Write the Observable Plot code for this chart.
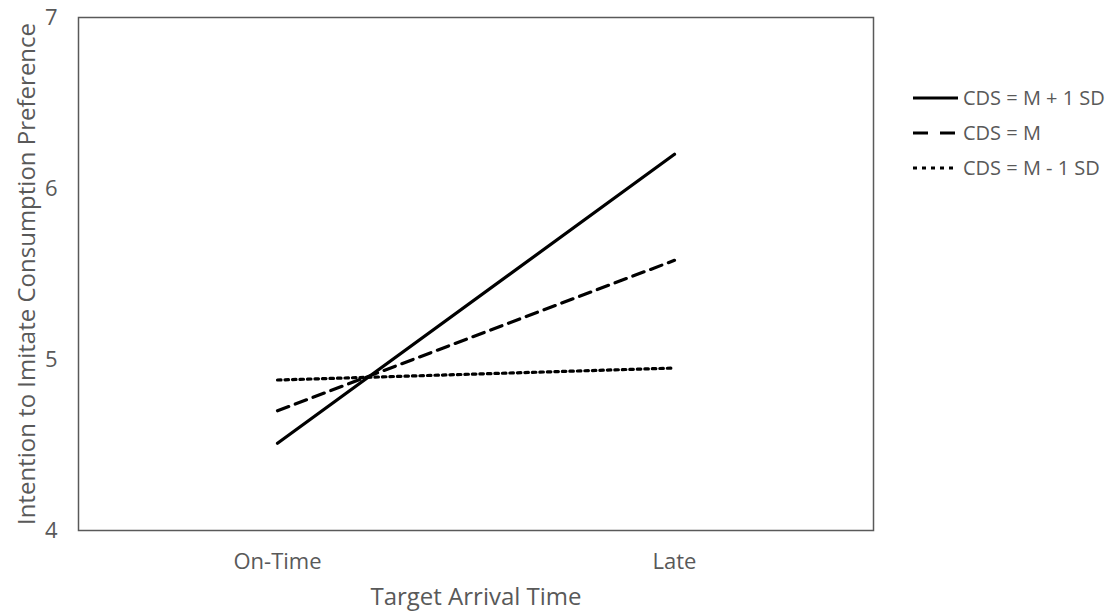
<!DOCTYPE html>
<html><head><meta charset="utf-8">
<script src="https://cdn.jsdelivr.net/npm/d3@7"></script>
<script src="https://cdn.jsdelivr.net/npm/@observablehq/plot@0.6"></script>
<style>
body{margin:0;background:#fff;font-family:"Open Sans",sans-serif;}
#wrap{position:relative;width:1119px;height:615px;}
#legend{position:absolute;left:912px;top:80px;color:#595959;font-size:20px;}
#legend div{display:flex;align-items:center;height:35px;}
#legend svg{margin-right:3px;}
</style></head><body>
<div id="wrap"><div id="chart"></div><div id="legend"></div></div>
<script>
const categories = ["On-Time", "Late"];
const seriesNames = ["CDS = M + 1 SD", "CDS = M", "CDS = M - 1 SD"];
const highSD = [4.51, 6.20];
const mean = [4.70, 5.58];
const lowSD = [4.88, 4.95];
const yTicks = [4, 5, 6, 7];

const dashes = {"CDS = M + 1 SD": null, "CDS = M": "12,7", "CDS = M - 1 SD": "3.5,4"};
const legendDashes = {"CDS = M + 1 SD": null, "CDS = M": "15,12", "CDS = M - 1 SD": "4,5"};
const vals = [highSD, mean, lowSD];
const data = seriesNames.flatMap((s, i) => categories.map((c, j) => ({series: s, cat: c, v: vals[i][j]})));

const chart = Plot.plot({
  width: 1119, height: 615,
  marginLeft: 78, marginRight: 246, marginTop: 17, marginBottom: 85,
  style: {fontFamily: "Open Sans, sans-serif", fontSize: "22px", color: "#595959", background: "#fff", overflow: "visible"},
  x: {type: "point", domain: categories, padding: 0.5, label: null},
  y: {domain: [4, 7], ticks: yTicks, label: null},
  marks: [
    Plot.frame({stroke: "#595959", strokeWidth: 1.5}),
    Plot.axisY({ticks: yTicks, tickFormat: "d", tickSize: 0, tickPadding: 21, fontSize: 22, fill: "#595959", label: null}),
    Plot.axisX({tickSize: 0, tickPadding: 23, fontSize: 22, fill: "#595959", label: null}),
    ...seriesNames.map(s => Plot.line(data.filter(d => d.series === s), {
      x: "cat", y: "v", stroke: "#000", strokeWidth: 3.2,
      strokeDasharray: dashes[s]
    })),
    Plot.text(["Target Arrival Time"], {frameAnchor: "bottom", dy: 67, fontSize: 24, fill: "#595959", lineAnchor: "middle"}),
    Plot.text(["Intention to Imitate Consumption Preference"], {frameAnchor: "left", textAnchor: "middle", dx: -51, rotate: -90, fontSize: 24, fill: "#595959"})
  ]
});
document.getElementById("chart").appendChild(chart);

const leg = d3.select("#legend");
seriesNames.forEach(s => {
  const row = leg.append("div");
  const sv = row.append("svg").attr("width", 48).attr("height", 10);
  sv.append("line").attr("x1", 1).attr("x2", 46).attr("y1", 5).attr("y2", 5)
    .attr("stroke", "#000").attr("stroke-width", 3.2)
    .attr("stroke-dasharray", legendDashes[s]);
  row.append("span").text(s);
});
</script></body></html>
